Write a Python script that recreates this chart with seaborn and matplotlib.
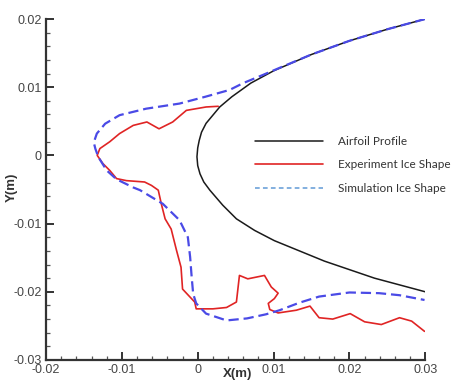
import numpy as np
import pandas as pd
import matplotlib
matplotlib.use("Agg")
import matplotlib.pyplot as plt
from matplotlib.lines import Line2D
from matplotlib.ticker import MultipleLocator, FixedLocator
import seaborn as sns

# Airfoil contour, upper trailing edge -> leading edge -> lower trailing edge
airfoil_x = [0.030, 0.025, 0.020, 0.015, 0.010, 0.007, 0.0045, 0.0029, 0.0011, 0.0005, 0.0002,
             0.0000, -0.0001, 0.0000, 0.0003, 0.0008, 0.0016, 0.0033, 0.0051, 0.0075, 0.0101,
             0.0167, 0.0233, 0.030]
airfoil_y = [0.0200, 0.0185, 0.0168, 0.0148, 0.0124, 0.0106, 0.0086, 0.0071, 0.0047, 0.0034, 0.0022,
             0.0011, -0.0002, -0.0015, -0.0027, -0.0039, -0.0051, -0.0073, -0.0093, -0.0110, -0.0125,
             -0.0155, -0.0180, -0.0200]

# Measured ice accretion contour
exp_x = [0.0027, 0.0011, -0.0015, -0.0033, -0.0051, -0.0067, -0.0085, -0.0103, -0.0116, -0.0129,
         -0.01325, -0.0125, -0.0116, -0.0107, -0.0094, -0.0070, -0.0061, -0.0052, -0.0048, -0.0043,
         -0.0035, -0.0028, -0.0022, -0.0020, -0.0004, -0.0002, 0.0020, 0.0038, 0.0051, 0.0055,
         0.0066, 0.0088, 0.0097, 0.0106, 0.0101, 0.0093, 0.0095, 0.0106, 0.0130, 0.0148,
         0.0160, 0.0178, 0.0201, 0.0220, 0.0242, 0.0266, 0.0282, 0.0299]
exp_y = [0.0072, 0.0071, 0.0066, 0.0049, 0.0039, 0.0049, 0.0044, 0.0032, 0.0020, 0.0010,
         0.0, -0.0012, -0.0022, -0.0034, -0.0037, -0.0039, -0.0044, -0.0051, -0.0071, -0.0093,
         -0.0108, -0.0139, -0.0164, -0.0196, -0.0215, -0.0225, -0.0225, -0.0223, -0.0215, -0.0176,
         -0.0181, -0.0176, -0.0193, -0.0202, -0.0210, -0.0217, -0.0226, -0.0231, -0.0227, -0.0221,
         -0.0238, -0.0240, -0.0232, -0.0244, -0.0248, -0.0238, -0.0243, -0.0258]

# Simulated ice accretion contour
sim_x = [0.030, 0.025, 0.020, 0.015, 0.0105, 0.0086, 0.0060, 0.0042, 0.0010, -0.0024,
         -0.0068, -0.0103, -0.0122, -0.0133, -0.0137, -0.0135, -0.0131, -0.0120, -0.0107, -0.0085,
         -0.0076, -0.0046, -0.0024, -0.0013, -0.0010, -0.0008, -0.0006, -0.0002, 0.0011, 0.0038,
         0.0065, 0.0090, 0.0108, 0.0134, 0.0160, 0.0200, 0.0239, 0.0266, 0.0299]
sim_y = [0.0200, 0.0185, 0.0168, 0.0148, 0.0127, 0.0118, 0.0106, 0.0096, 0.0086, 0.0076,
         0.00685, 0.0059, 0.00465, 0.0032, 0.0019, 0.0010, -0.00025, -0.0022, -0.0035, -0.0047,
         -0.0051, -0.0071, -0.0095, -0.0120, -0.0149, -0.0178, -0.0203, -0.0217, -0.0232, -0.0242,
         -0.0239, -0.0233, -0.0227, -0.0216, -0.0207, -0.0201, -0.0202, -0.0205, -0.0212]

series_labels = ["Airfoil Profile", "Experiment Ice Shape", "Simulation Ice Shape"]
x_ticks = [-0.02, -0.01, 0, 0.01, 0.02, 0.03]
x_tick_labels = ["-0.02", "-0.01", "0", "0.01", "0.02", "0.03"]
y_ticks = [-0.03, -0.02, -0.01, 0, 0.01, 0.02]
y_tick_labels = ["-0.03", "-0.02", "-0.01", "0", "0.01", "0.02"]

sns.set_style("white")
plt.rcParams["font.family"] = ["Liberation Sans", "DejaVu Sans"]

fig = plt.figure(figsize=(4.51, 3.81), dpi=100)
ax = fig.add_axes([46 / 451, 1 - 360 / 381, (425.3 - 46) / 451, (360 - 19) / 381])

airfoil = pd.DataFrame({"x": airfoil_x, "y": airfoil_y})
experiment = pd.DataFrame({"x": exp_x, "y": exp_y})
simulation = pd.DataFrame({"x": sim_x, "y": sim_y})

sns.lineplot(data=airfoil, x="x", y="y", sort=False, estimator=None, ax=ax,
             color="#1a1a1a", linewidth=1.1)
sns.lineplot(data=experiment, x="x", y="y", sort=False, estimator=None, ax=ax,
             color="#e02424", linewidth=1.2)
sim_line = sns.lineplot(data=simulation, x="x", y="y", sort=False, estimator=None, ax=ax,
                        color="#4a4ae6", linewidth=1.6).lines[-1]
sim_line.set_dashes((4.6, 2.2))

ax.set_xlim(-0.02, 0.03)
ax.set_ylim(-0.03, 0.02)
ax.xaxis.set_major_locator(FixedLocator(x_ticks))
ax.set_xticklabels(x_tick_labels)
ax.yaxis.set_major_locator(FixedLocator(y_ticks))
ax.set_yticklabels(y_tick_labels)
ax.xaxis.set_minor_locator(MultipleLocator(0.002))
ax.yaxis.set_minor_locator(MultipleLocator(0.002))

for side in ("top", "right"):
    ax.spines[side].set_visible(False)
for side in ("left", "bottom"):
    ax.spines[side].set_color("#333333")
    ax.spines[side].set_linewidth(1.6)

ax.tick_params(which="major", direction="in", length=6, width=1.4, color="#333333",
               labelsize=9, labelcolor="#444444", pad=3)
ax.tick_params(which="minor", direction="in", length=3, width=0.9, color="#555555")
ax.tick_params(axis="x", which="both", bottom=True)
ax.tick_params(axis="y", which="both", left=True)

ax.set_xlabel("X(m)", fontsize=9.5, fontweight="bold", color="#333333")
ax.set_ylabel("Y(m)", fontsize=9.5, fontweight="bold", color="#333333")
ax.xaxis.set_label_coords(0.504, -0.024)
ax.yaxis.set_label_coords(-0.074, 0.505)

handles = [
    Line2D([], [], color="#1a1a1a", linewidth=1.1),
    Line2D([], [], color="#e02424", linewidth=1.2),
    Line2D([], [], color="#78a9dc", linewidth=1.3, dashes=(2.6, 1.8)),
]
leg = fig.legend(handles, series_labels, loc="upper left",
                 bbox_to_anchor=(255 / 451, 1 - 136 / 381), frameon=False,
                 prop={"family": "Lato", "size": 8.5},
                 handlelength=5.8, handletextpad=1.25, labelspacing=1.05,
                 borderpad=0, borderaxespad=0)
for t in leg.get_texts():
    t.set_color("#333333")

fig.savefig("out.png", dpi=100)
